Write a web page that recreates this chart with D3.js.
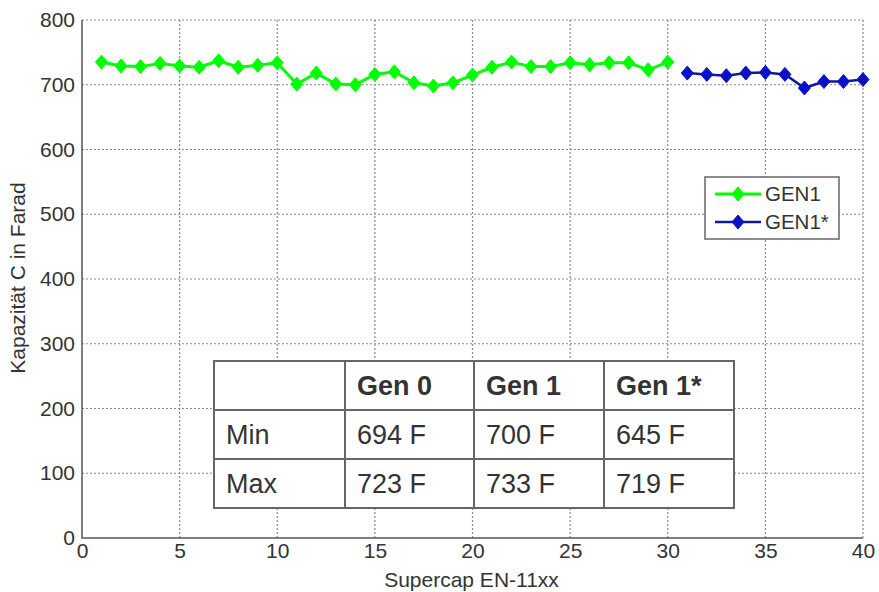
<!DOCTYPE html>
<html>
<head>
<meta charset="utf-8">
<script src="https://cdn.jsdelivr.net/npm/d3@7"></script>
<style>
  html, body { margin: 0; padding: 0; background: #fff; }
  svg { display: block; font-family: "Liberation Sans", Arial, sans-serif; }
</style>
</head>
<body>
<svg id="chart" width="879" height="592"></svg>
<script>
// Capacitance per supercap (Farad)
const gen1X = d3.range(1, 31);
const gen1Values = [735, 729, 728, 733, 729, 727, 737, 727, 730, 734,
                    701, 718, 701, 700, 716, 720, 703, 698, 703, 715,
                    727, 735, 728, 728, 734, 731, 734, 734, 723, 735];
const gen1StarX = d3.range(31, 41);
const gen1StarValues = [718, 716, 714, 718, 719, 716, 695, 705, 705, 708];

const xTicks = [0, 5, 10, 15, 20, 25, 30, 35, 40];
const yTicks = [0, 100, 200, 300, 400, 500, 600, 700, 800];

const legendLabels = ["GEN1", "GEN1*"];
const tableHeader = ["", "Gen 0", "Gen 1", "Gen 1*"];
const tableRowLabels = ["Min", "Max"];
const tableMin = [694, 700, 645];
const tableMax = [723, 733, 719];

const svg = d3.select("#chart");
const plotL = 82, plotR = 863, plotT = 20, plotB = 538;
const x = d3.scaleLinear().domain([0, 40]).range([plotL, plotR]);
const y = d3.scaleLinear().domain([0, 800]).range([plotB, plotT]);

const textColor = "#333";
const gridColor = "#8a8a8a";

// dotted grid
const grid = svg.append("g");
grid.selectAll("line.v").data(xTicks.filter(d => d > 0)).join("line")
  .attr("class", "v")
  .attr("x1", d => x(d)).attr("x2", d => x(d))
  .attr("y1", plotB).attr("y2", plotT)
  .attr("stroke", gridColor).attr("stroke-width", 1.2).attr("stroke-dasharray", "2,2");
grid.selectAll("line.h").data(yTicks.filter(d => d > 0)).join("line")
  .attr("class", "h")
  .attr("x1", plotL).attr("x2", plotR)
  .attr("y1", d => y(d)).attr("y2", d => y(d))
  .attr("stroke", gridColor).attr("stroke-width", 1.2).attr("stroke-dasharray", "2,2");

// axes (labels only; solid lines drawn below)
const xAxis = svg.append("g").attr("transform", `translate(0,${plotB})`)
  .call(d3.axisBottom(x).tickValues(xTicks).tickSize(0).tickPadding(5));
const yAxis = svg.append("g").attr("transform", `translate(${plotL},0)`)
  .call(d3.axisLeft(y).tickValues(yTicks).tickSize(0).tickPadding(7));
[xAxis, yAxis].forEach(g => {
  g.select(".domain").remove();
  g.selectAll("text").attr("fill", textColor).style("font-size", "21px")
    .style("font-family", "'Liberation Sans', Arial, sans-serif");
});

svg.append("path")
  .attr("d", `M${plotL},${plotT}V${plotB}H${plotR}`)
  .attr("fill", "none").attr("stroke", "#555").attr("stroke-width", 1.5);

// axis titles
svg.append("text").attr("x", (plotL + plotR) / 2 - 1).attr("y", 587)
  .attr("text-anchor", "middle").attr("fill", textColor).style("font-size", "21px")
  .text("Supercap EN-11xx");
svg.append("text").attr("transform", `translate(25,${(plotT + plotB) / 2 - 1}) rotate(-90)`)
  .attr("text-anchor", "middle").attr("fill", textColor).style("font-size", "21px")
  .text("Kapazität C in Farad");

// series
const diamond = "M0,-7L6,0L0,7L-6,0Z";
const series = [
  { xs: gen1X, ys: gen1Values, line: "#00ff00", mark: "#00ff00", width: 3 },
  { xs: gen1StarX, ys: gen1StarValues, line: "#0c1a9a", mark: "#0a12c8", width: 2.5 }
];
const line = d3.line().x(d => x(d[0])).y(d => y(d[1]));
series.forEach(s => {
  const pts = s.xs.map((v, i) => [v, s.ys[i]]);
  svg.append("path").datum(pts).attr("d", line)
    .attr("fill", "none").attr("stroke", s.line).attr("stroke-width", s.width)
    .attr("stroke-linejoin", "round");
  svg.append("g").selectAll("path").data(pts).join("path")
    .attr("d", diamond)
    .attr("transform", d => `translate(${x(d[0])},${y(d[1])})`)
    .attr("fill", s.mark).attr("stroke", s.mark).attr("stroke-width", 1);
});

// legend
const lg = svg.append("g").attr("transform", "translate(705,177)");
lg.append("rect").attr("width", 134).attr("height", 62)
  .attr("fill", "#fff").attr("stroke", "#666").attr("stroke-width", 1.5);
legendLabels.forEach((label, i) => {
  const s = series[i];
  const yy = 17 + i * 28;
  lg.append("line").attr("x1", 10).attr("x2", 56).attr("y1", yy).attr("y2", yy)
    .attr("stroke", s.line).attr("stroke-width", s.width);
  lg.append("path").attr("d", diamond).attr("transform", `translate(33,${yy})`)
    .attr("fill", s.mark).attr("stroke", s.mark);
  lg.append("text").attr("x", 60).attr("y", yy).attr("dy", "0.36em")
    .attr("fill", textColor).style("font-size", "20.5px").text(label);
});

// summary table
const tX = 214, tY = 361;
const colW = [131, 129, 130, 130];
const rowH = 49;
const colStart = colW.map((w, i) => tX + d3.sum(colW.slice(0, i)));
const tableRows = [
  tableHeader,
  [tableRowLabels[0], ...tableMin.map(v => `${v} F`)],
  [tableRowLabels[1], ...tableMax.map(v => `${v} F`)]
];
const tg = svg.append("g");
tg.append("rect").attr("x", tX).attr("y", tY)
  .attr("width", d3.sum(colW)).attr("height", rowH * tableRows.length)
  .attr("fill", "#fff");
tableRows.forEach((row, r) => {
  row.forEach((cell, c) => {
    tg.append("rect").attr("x", colStart[c]).attr("y", tY + r * rowH)
      .attr("width", colW[c]).attr("height", rowH)
      .attr("fill", "none").attr("stroke", "#666").attr("stroke-width", 2);
    if (cell) {
      tg.append("text").attr("x", colStart[c] + 12).attr("y", tY + r * rowH + rowH / 2)
        .attr("dy", "0.36em").attr("fill", textColor)
        .style("font-size", "27px").style("font-weight", r === 0 ? "bold" : "normal")
        .text(cell);
    }
  });
});
</script>
</body>
</html>
